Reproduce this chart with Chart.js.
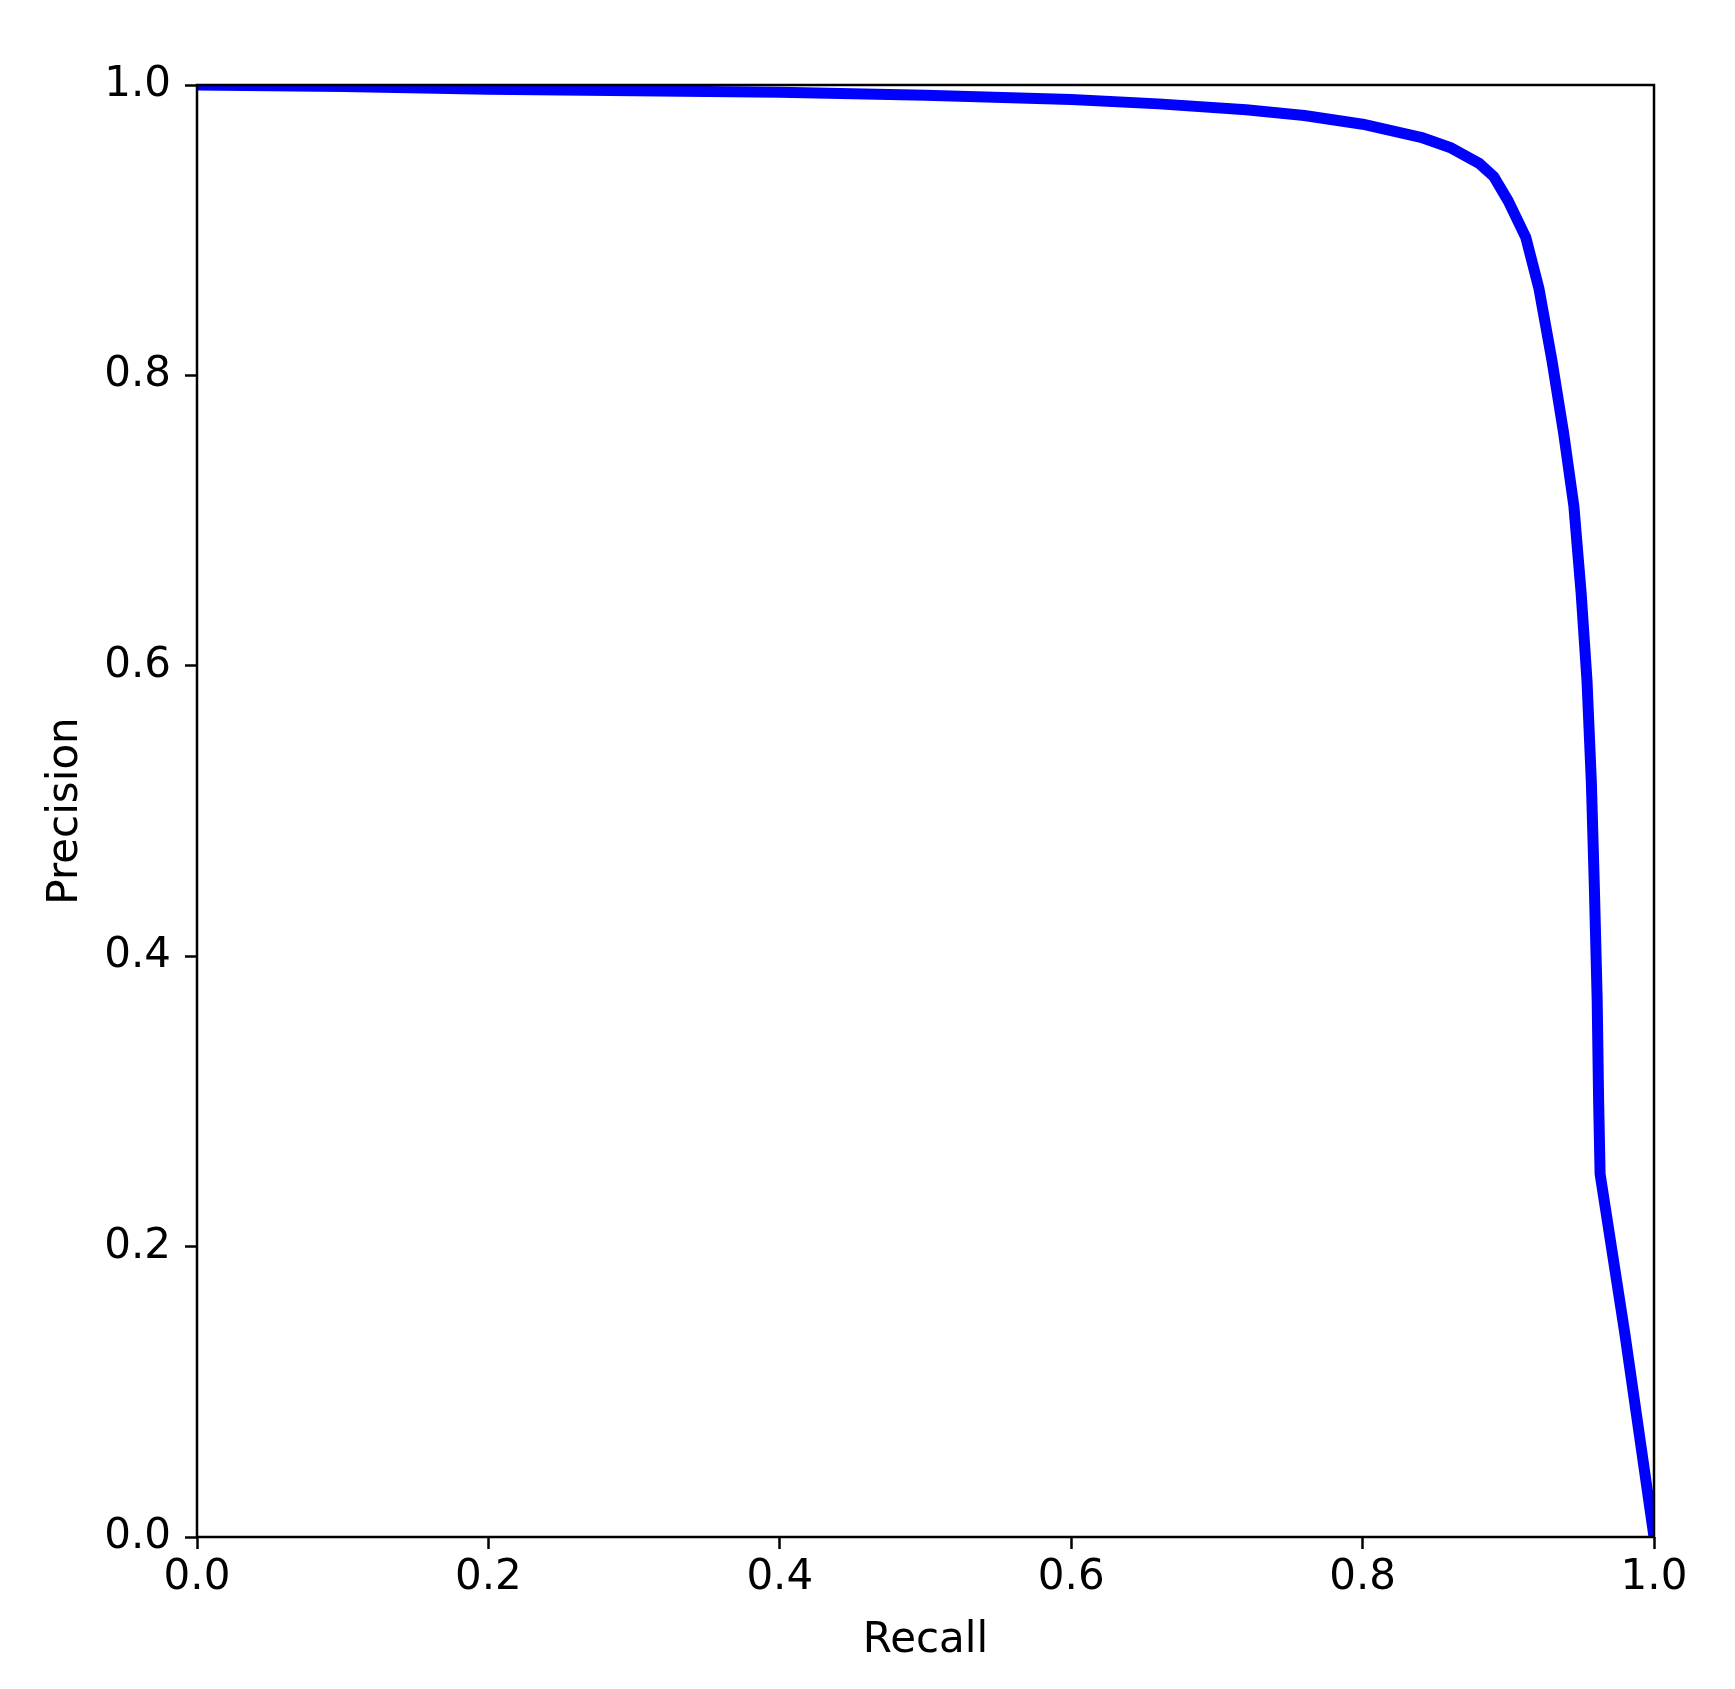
<!DOCTYPE html>
<html>
<head>
<meta charset="utf-8">
<script src="https://cdn.jsdelivr.net/npm/chart.js@4/dist/chart.umd.min.js"></script>
<style>
  body { margin: 0; background: #fff; }
</style>
</head>
<body>
<canvas id="pr-chart" width="1735" height="1689"></canvas>
<script>
// precision-recall curve
var recall = [0, 0.1, 0.2, 0.3, 0.4, 0.5, 0.6, 0.66, 0.72, 0.76, 0.8, 0.84, 0.86, 0.88, 0.89, 0.9,
              0.912, 0.921, 0.93, 0.938, 0.945, 0.95, 0.954, 0.957, 0.959, 0.961, 0.962, 0.963, 0.98, 1.0];
var precision = [1.0, 0.999, 0.997, 0.996, 0.995, 0.993, 0.990, 0.987, 0.983, 0.979, 0.973, 0.964, 0.957, 0.946, 0.937, 0.920,
                 0.895, 0.86, 0.81, 0.76, 0.71, 0.65, 0.59, 0.52, 0.45, 0.37, 0.30, 0.25, 0.14, 0.0];
var xTitle = 'Recall';
var yTitle = 'Precision';

var points = recall.map(function (r, i) { return {x: r, y: precision[i]}; });

var tickFont = {family: 'DejaVu Sans', size: 42};

// box around the plot area, like matplotlib spines
var frame = {
    id: 'frame',
    afterDatasetsDraw: function (chart) {
        var a = chart.chartArea, c = chart.ctx;
        c.save();
        c.strokeStyle = '#000';
        c.lineWidth = 2.5;
        c.strokeRect(a.left, a.top, a.right - a.left, a.bottom - a.top);
        c.restore();
    }
};

var ctx = document.getElementById('pr-chart').getContext('2d');
new Chart(ctx, {
    type: 'scatter',
    data: {
        datasets: [{
            data: points,
            showLine: true,
            borderColor: '#0000ff',
            backgroundColor: '#0000ff',
            borderWidth: 11,
            borderJoinStyle: 'round',
            pointRadius: 0,
            tension: 0,
            clip: 0
        }]
    },
    options: {
        responsive: false,
        animation: false,
        layout: {padding: {left: 0, right: 81, top: 85, bottom: 0}},
        plugins: {legend: {display: false}, tooltip: {enabled: false}},
        scales: {
            x: {
                type: 'linear',
                min: 0, max: 1,
                afterFit: function (s) { s.height = 152; },
                border: {display: false},
                grid: {drawOnChartArea: false, drawTicks: true, tickLength: 12, tickWidth: 2.5, tickColor: '#000'},
                ticks: {stepSize: 0.2, color: '#000', font: tickFont, padding: 4, maxRotation: 0,
                        callback: function (v) { return v.toFixed(1); }},
                title: {display: true, text: xTitle, color: '#000', font: tickFont, padding: {top: 0, bottom: 23}}
            },
            y: {
                type: 'linear',
                min: 0, max: 1,
                afterFit: function (s) { s.width = 197; },
                border: {display: false},
                grid: {drawOnChartArea: false, drawTicks: true, tickLength: 12, tickWidth: 2.5, tickColor: '#000'},
                ticks: {stepSize: 0.2, color: '#000', font: tickFont, padding: 14,
                        callback: function (v) { return v.toFixed(1); }},
                title: {display: true, text: yTitle, color: '#000', font: tickFont, padding: {top: 41, bottom: 0}}
            }
        }
    },
    plugins: [frame]
});
</script>
</body>
</html>
